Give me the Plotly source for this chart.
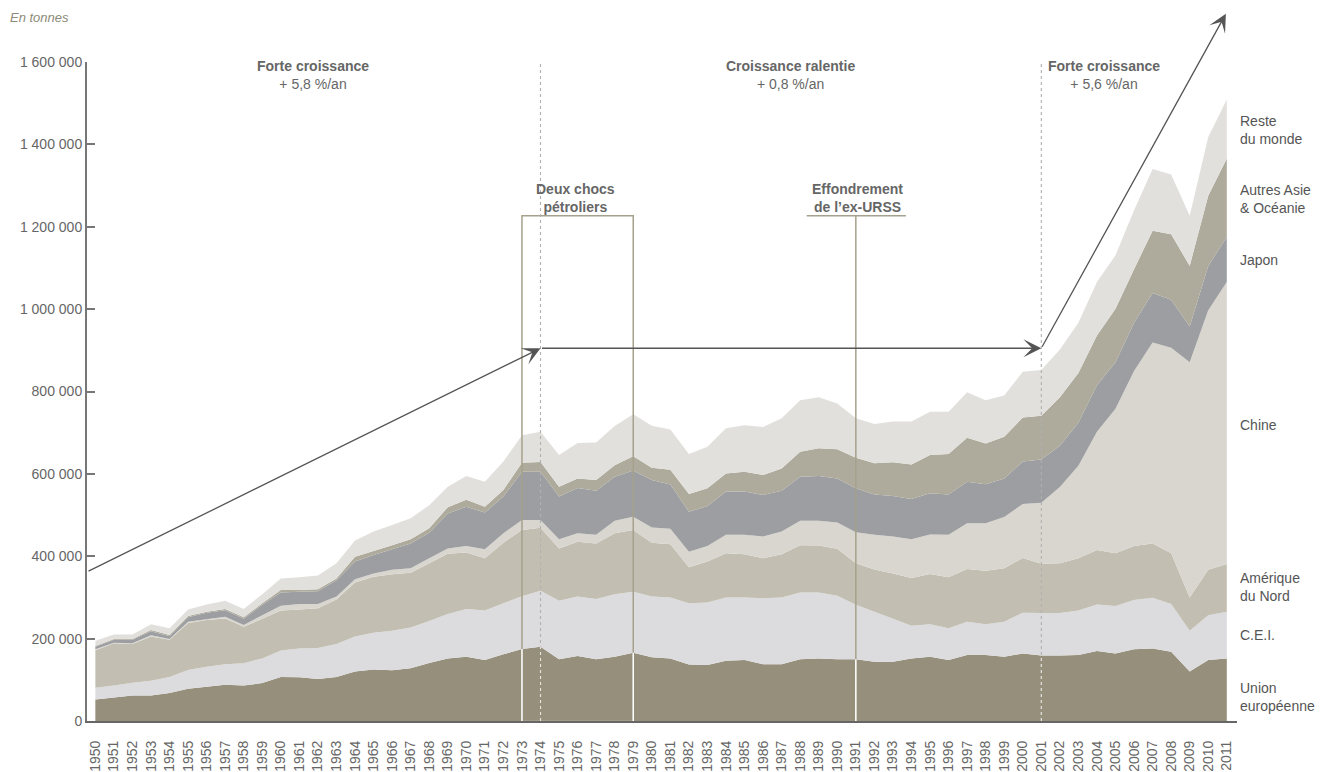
import plotly.graph_objects as go

# consommation par zone, en milliers de tonnes
years = list(range(1950, 2012))

union_europeenne = [52, 57, 62, 62, 68, 78, 83, 88, 86, 92,
                    107, 106, 102, 107, 120, 125, 123, 128, 141, 152,
                    156, 148, 162, 175, 180, 150, 158, 150, 156, 166,
                    155, 152, 137, 136, 146, 148, 138, 138, 150, 152,
                    150, 150, 144, 144, 152, 156, 148, 160, 160, 156,
                    164, 159, 159, 160, 170, 164, 174, 176, 168, 120,
                    148, 152]
cei = [29, 29, 31, 36, 39, 46, 49, 50, 54, 60,
       64, 70, 75, 80, 85, 89, 96, 99, 102, 108,
       116, 120, 124, 128, 136, 142, 144, 146, 152, 148,
       147, 148, 149, 152, 154, 152, 160, 162, 162, 160,
       154, 132, 121, 104, 79, 79, 77, 81, 75, 85,
       99, 103, 103, 108, 113, 115, 120, 123, 116, 99,
       109, 113]
amerique_du_nord = [91, 103, 94, 107, 90, 114, 113, 111, 89, 96,
                    97, 95, 97, 108, 131, 136, 137, 133, 140, 146,
                    137, 127, 147, 161, 153, 127, 133, 135, 148, 150,
                    131, 129, 87, 99, 107, 105, 97, 105, 115, 114,
                    114, 101, 103, 110, 116, 122, 124, 128, 130, 130,
                    133, 120, 121, 127, 132, 128, 131, 132, 123, 81,
                    110, 116]
chine = [2, 1, 2, 3, 2, 3, 2, 4, 4, 9,
         12, 13, 10, 7, 8, 8, 11, 11, 12, 13,
         16, 22, 23, 24, 19, 22, 21, 21, 30, 32,
         37, 38, 38, 38, 45, 47, 53, 55, 59, 60,
         64, 75, 84, 90, 94, 96, 103, 111, 115, 124,
         131, 148, 185, 225, 287, 351, 425, 488, 499, 571,
         630, 685]
japon = [6, 7, 8, 10, 7, 11, 16, 16, 15, 25,
         32, 30, 31, 40, 43, 45, 50, 60, 62, 85,
         95, 89, 89, 117, 117, 104, 110, 107, 107, 112,
         115, 107, 97, 97, 105, 105, 101, 99, 107, 109,
         107, 107, 98, 98, 98, 100, 98, 101, 95, 94,
         103, 105, 100, 104, 113, 113, 117, 120, 117, 87,
         108, 109]
autres_asie_oceanie = [2, 2, 2, 3, 3, 3, 2, 3, 4, 4,
                       6, 4, 5, 4, 12, 10, 10, 10, 11, 15,
                       17, 14, 16, 22, 24, 24, 23, 26, 28, 35,
                       30, 36, 43, 43, 44, 48, 48, 54, 61, 67,
                       71, 74, 76, 82, 84, 93, 98, 107, 99, 101,
                       107, 106, 118, 121, 121, 130, 130, 151, 159, 147,
                       170, 191]
reste_du_monde = [13, 11, 11, 14, 16, 16, 18, 20, 20, 22,
                  28, 31, 33, 37, 39, 47, 49, 51, 56, 50,
                  58, 61, 69, 67, 73, 77, 86, 91, 95, 102,
                  102, 98, 97, 101, 110, 113, 117, 122, 125, 124,
                  111, 96, 95, 99, 104, 105, 103, 110, 105, 100,
                  111, 111, 116, 122, 130, 130, 143, 150, 145, 122,
                  143, 143]

ytick_vals = [0, 200000, 400000, 600000, 800000, 1000000, 1200000, 1400000, 1600000]
ytick_text = ["0", "200 000", "400 000", "600 000", "800 000",
              "1 000 000", "1 200 000", "1 400 000", "1 600 000"]

series = [
    ("Union européenne", union_europeenne, "#958f7b"),
    ("C.E.I.", cei, "#dcdcdf"),
    ("Amérique du Nord", amerique_du_nord, "#c2bfb2"),
    ("Chine", chine, "#d9d6cf"),
    ("Japon", japon, "#9d9ea1"),
    ("Autres Asie & Océanie", autres_asie_oceanie, "#aeab9c"),
    ("Reste du monde", reste_du_monde, "#e1e0dc"),
]

FONT = "Liberation Sans, Arial, Helvetica, sans-serif"
KHAKI = "#a5a18c"
ARROW = "#555555"

fig = go.Figure()
for name, vals, color in series:
    fig.add_trace(go.Scatter(
        x=years, y=[v * 1000 for v in vals], name=name,
        stackgroup="one", mode="none", fillcolor=color,
        hovertemplate="%{x} : %{y:,.0f} t<extra>" + name + "</extra>"
    ))

def eu_at(year):
    return union_europeenne[years.index(year)] * 1000

box_top = 1227000
shapes = [
    # deux chocs petroliers
    dict(type="rect", x0=1973, x1=1979, y0=0, y1=box_top,
         line=dict(color=KHAKI, width=1.5), fillcolor="rgba(0,0,0,0)"),
    # ex-URSS
    dict(type="line", x0=1991, x1=1991, y0=0, y1=box_top, line=dict(color=KHAKI, width=1.5)),
    dict(type="line", x0=1988.35, x1=1993.7, y0=box_top, y1=box_top, line=dict(color=KHAKI, width=1.5)),
]
for yr in (1973, 1979, 1991):
    shapes.append(dict(type="line", x0=yr, x1=yr, y0=0, y1=eu_at(yr),
                       line=dict(color="white", width=1.5)))
for yr in (1974, 2001):
    shapes.append(dict(type="line", x0=yr, x1=yr, y0=0, y1=1605000,
                       line=dict(color="#b0b0b0", width=1.1, dash="dot")))
    shapes.append(dict(type="line", x0=yr, x1=yr, y0=0, y1=eu_at(yr),
                       line=dict(color="#e6e4dc", width=1.1, dash="dot")))

annotations = []
# fleches de tendance
for (x, y, ax, ay) in [(1974, 905000, 1949.55, 362000),
                       (2001, 905000, 1974, 905000),
                       (2010.95, 1717000, 2001, 905000)]:
    annotations.append(dict(x=x, y=y, ax=ax, ay=ay, xref="x", yref="y", axref="x", ayref="y",
                            text="", showarrow=True, arrowhead=3, arrowsize=2.3,
                            arrowwidth=1.3, arrowcolor=ARROW, standoff=0))

for x, title, rate in [(1961.73, "Forte croissance", "+ 5,8 %/an"),
                       (1987.5, "Croissance ralentie", "+ 0,8 %/an"),
                       (2004.37, "Forte croissance", "+ 5,6 %/an")]:
    annotations.append(dict(x=x, y=1568000, xref="x", yref="y", showarrow=False,
                            text=f"<b>{title}</b><br>{rate}", align="center",
                            font=dict(family=FONT, size=14, color="#666666")))

annotations.append(dict(x=1975.88, y=1271000, xref="x", yref="y", showarrow=False,
                        text="<b>Deux chocs</b><br><b>pétroliers</b>", align="center",
                        font=dict(family=FONT, size=14, color="#666666")))
annotations.append(dict(x=1991.08, y=1271000, xref="x", yref="y", showarrow=False,
                        text="<b>Effondrement</b><br><b>de l’ex-URSS</b>", align="center",
                        font=dict(family=FONT, size=14, color="#666666")))

annotations.append(dict(x=-0.0687, y=1.0668, xref="paper", yref="paper", showarrow=False,
                        xanchor="left", yanchor="middle", text="<i>En tonnes</i>",
                        font=dict(family=FONT, size=13, color="#8c8a78")))

for text, y in [("Reste<br>du monde", 1435000), ("Autres Asie<br>& Océanie", 1267000),
                ("Japon", 1119000), ("Chine", 719000), ("Amérique<br>du Nord", 325000),
                ("C.E.I.", 209000), ("Union<br>européenne", 58000)]:
    annotations.append(dict(x=1.0009, y=y, xref="paper", yref="y", showarrow=False,
                            xanchor="left", yanchor="middle", align="left", text=text,
                            font=dict(family=FONT, size=14, color="#555555")))

# la page html ajoute une marge de 8 px : figure de 1318 x 764
fig.update_layout(
    width=1318, height=764,
    margin=dict(l=79, r=89, t=54, b=51),
    paper_bgcolor="white", plot_bgcolor="white",
    showlegend=False,
    font=dict(family=FONT, size=14, color="#666666"),
    shapes=shapes, annotations=annotations,
    xaxis=dict(range=[1949.55, 2011.55], tickvals=years, ticktext=[str(y) for y in years],
               tickangle=-90, ticks="", ticklabelstandoff=12, showgrid=False, zeroline=False,
               showline=True, linecolor="#666666", linewidth=2, automargin=False,
               tickfont=dict(family=FONT, size=14, color="#666666")),
    yaxis=dict(range=[0, 1600000], tickvals=ytick_vals, ticktext=ytick_text,
               ticks="inside", ticklen=8, tickwidth=1.5, tickcolor="#777777",
               showgrid=False, zeroline=False, showline=True, linecolor="#777777", linewidth=2,
               automargin=False,
               tickfont=dict(family=FONT, size=14, color="#666666")),
)

fig.write_html("out.html")
